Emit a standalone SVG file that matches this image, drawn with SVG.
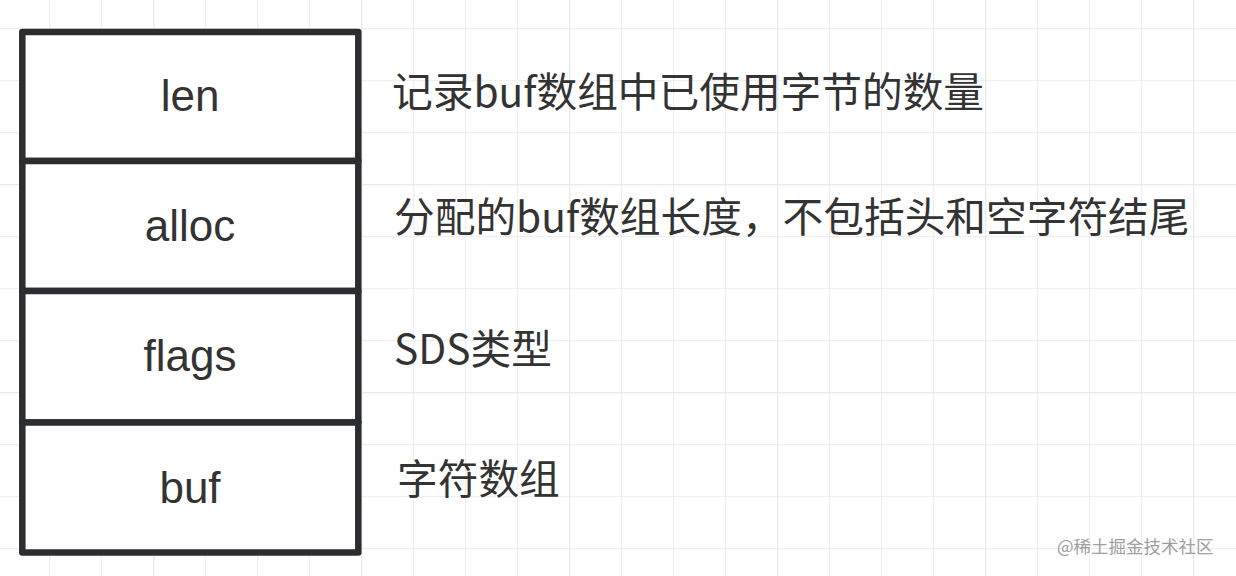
<svg xmlns="http://www.w3.org/2000/svg" width="1236" height="576" viewBox="0 0 1236 576">
  <defs>
    <pattern id="grid" x="49" y="28" width="52" height="52" patternUnits="userSpaceOnUse">
      <path d="M0.5 0 V52 M0 0.5 H52" fill="none" stroke="#f0f0f0" stroke-width="1.5"/>
    </pattern>
    <pattern id="gridMajor" x="153" y="184" width="208" height="208" patternUnits="userSpaceOnUse">
      <path d="M0.5 0 V208 M0 0.5 H208" fill="none" stroke="#eaeaea" stroke-width="1.5"/>
    </pattern>
  </defs>
  <style>
    .cell { fill: #ffffff; stroke: #2b2d31; stroke-width: 6.5; stroke-linejoin: round; }
    .field { font-family: "Liberation Sans", Arial, sans-serif; font-size: 44px; fill: #333333; text-anchor: middle; }
    .desc { font-family: "Noto Sans CJK SC", "Noto Sans", sans-serif; font-size: 40.7px; fill: #333333; }
    .wm { font-family: "Noto Sans CJK SC", sans-serif; font-size: 17.5px; fill: #a0a0a0; }
  </style>
  <rect width="1236" height="576" fill="#ffffff"/>
  <rect width="1236" height="576" fill="url(#grid)"/>
  <rect width="1236" height="576" fill="url(#gridMajor)"/>

  <g id="node-len">
    <rect class="cell" x="22.3" y="32" width="336" height="129"/>
    <text class="field" x="190" y="111">len</text>
  </g>
  <g id="node-alloc">
    <rect class="cell" x="22.3" y="161" width="336" height="130"/>
    <text class="field" x="190" y="241">alloc</text>
  </g>
  <g id="node-flags">
    <rect class="cell" x="22.3" y="291" width="336" height="131.5"/>
    <text class="field" x="190" y="371">flags</text>
  </g>
  <g id="node-buf">
    <rect class="cell" x="22.3" y="422.5" width="336" height="130"/>
    <text class="field" x="190" y="503">buf</text>
  </g>

  <g id="connectors"/>

  <g id="labels">
    <text class="desc" x="392" y="107">记录buf数组中已使用字节的数量</text>
    <text class="desc" x="394" y="232">分配的buf数组长度，不包括头和空字符结尾</text>
    <text class="desc" x="394" y="364">SDS类型</text>
    <text class="desc" x="397" y="494">字符数组</text>
  </g>
  <text class="wm" x="1057" y="553">@稀土掘金技术社区</text>
</svg>
